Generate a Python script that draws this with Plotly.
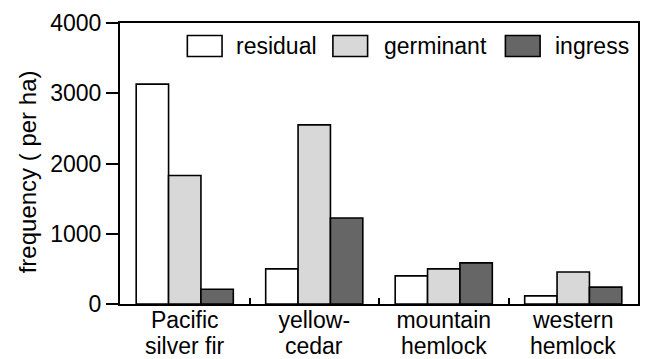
import plotly.graph_objects as go

categories = ["Pacific silver fir", "yellow-cedar", "mountain hemlock", "western hemlock"]
label_line1 = ["Pacific", "yellow-", "mountain", "western"]
label_line2 = ["silver fir", "cedar", "hemlock", "hemlock"]
residual = [3130, 500, 400, 115]
germinant = [1830, 2550, 500, 455]
ingress = [210, 1225, 585, 240]
series_names = ["residual", "germinant", "ingress"]
series_colors = ["#ffffff", "#d8d8d8", "#666666"]
y_ticks = [0, 1000, 2000, 3000, 4000]
y_title = "frequency ( per ha)"

FONT = "Liberation Sans, Arial, Helvetica, sans-serif"
FS = 23

fig = go.Figure()
for name, vals, col in zip(series_names, [residual, germinant, ingress], series_colors):
    fig.add_trace(go.Bar(
        x=categories, y=vals, name=name,
        marker=dict(color=col, line=dict(color="black", width=1.6)),
        showlegend=False,
    ))

# custom legend (wide swatches)
legend_boxes = [(0.130, 0.197, 0.2204), (0.411, 0.478, 0.5053), (0.744, 0.811, 0.8364)]
shapes = []
annotations = []
for (x0, x1, tx), name, col in zip(legend_boxes, series_names, series_colors):
    shapes.append(dict(type="rect", xref="paper", yref="paper", x0=x0, x1=x1,
                       y0=0.8808, y1=0.9555, fillcolor=col,
                       line=dict(color="black", width=1.6)))
    annotations.append(dict(xref="paper", yref="paper", x=tx, y=0.918,
                            xanchor="left", yanchor="middle", showarrow=False,
                            text=name, font=dict(family=FONT, size=FS, color="black")))

for cat, l2 in zip(categories, label_line2):
    annotations.append(dict(xref="x", yref="paper", x=cat, y=0, yanchor="top",
                            yshift=-27, showarrow=False, text=l2,
                            font=dict(family=FONT, size=FS, color="black")))

# y-axis title
annotations.append(dict(xref="paper", yref="paper", x=-0.178, y=0.4715,
                        xanchor="center", yanchor="middle", textangle=-90,
                        showarrow=False, text=y_title,
                        font=dict(family=FONT, size=24, color="black")))

fig.update_layout(
    width=649, height=359,
    margin=dict(l=120, r=9, t=23, b=55),
    paper_bgcolor="white", plot_bgcolor="white",
    barmode="group", bargap=0.25, bargroupgap=0,
    font=dict(family=FONT, size=FS, color="black"),
    shapes=shapes, annotations=annotations,
    xaxis=dict(
        tickmode="array", tickvals=categories, ticktext=label_line1,
        tickson="boundaries", ticks="inside", ticklen=6, tickwidth=2, tickcolor="black",
        showline=True, linewidth=2, linecolor="black", mirror=True,
        showgrid=False, zeroline=False, tickfont=dict(size=FS),
        ticklabelstandoff=-6,
    ),
    yaxis=dict(
        range=[0, 4000], tickvals=y_ticks, ticks="outside", ticklen=12, tickwidth=2,
        tickcolor="black", showline=True, linewidth=2, linecolor="black", mirror=True,
        showgrid=False, zeroline=False, tickfont=dict(size=FS),
    ),
)

fig.write_html("out.html", config={"displayModeBar": False},
               post_script="document.body.style.margin='0';document.body.style.overflow='hidden';")
